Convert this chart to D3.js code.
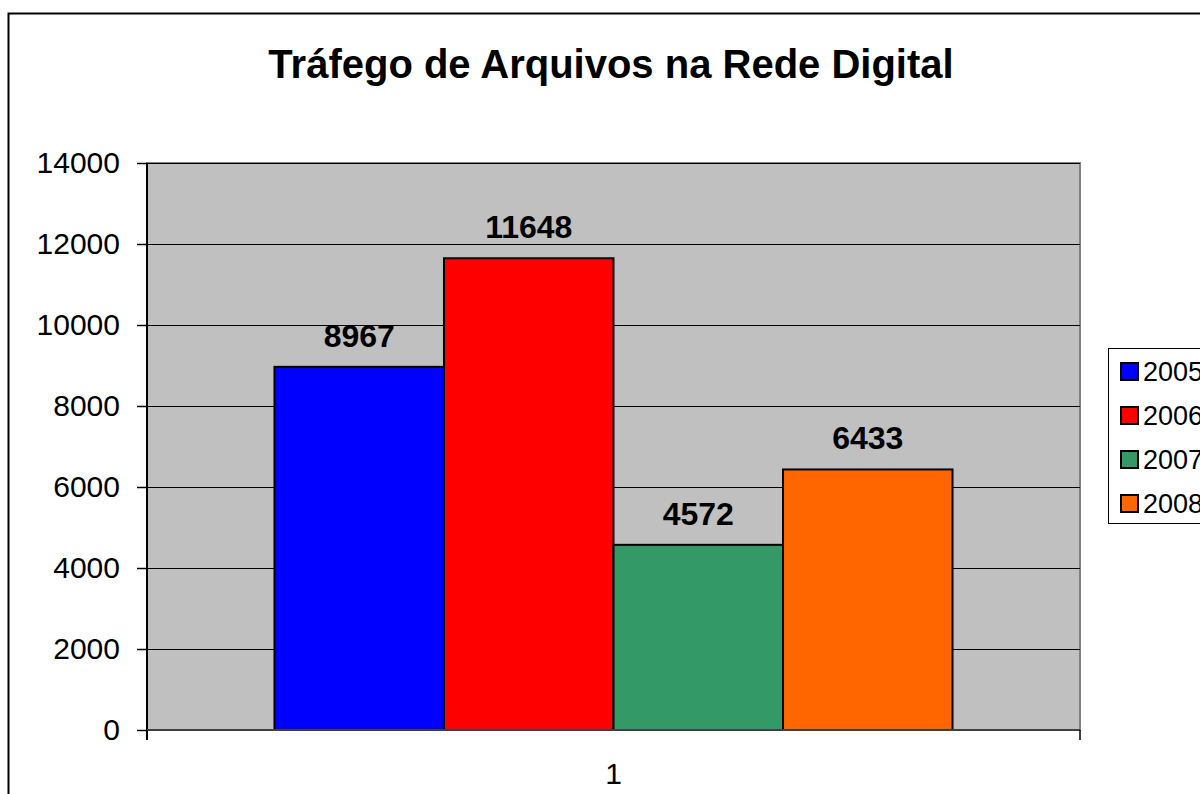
<!DOCTYPE html>
<html>
<head>
<meta charset="utf-8">
<script src="https://cdn.jsdelivr.net/npm/d3@7"></script>
<style>
  body { margin: 0; background: #fff; }
  text { font-family: "Liberation Sans", Arial, sans-serif; }
</style>
</head>
<body>
<div id="chart"></div>
<script>
const width = 1200;
const height = 794;

// data
const categories = ["1"];
const years = ["2005", "2006", "2007", "2008"];
const values = [8967, 11648, 4572, 6433];
const colors = ["#0000ff", "#ff0000", "#339966", "#ff6600"];
const yTicks = [0, 2000, 4000, 6000, 8000, 10000, 12000, 14000];

const plot = { left: 147, right: 1080, top: 163, bottom: 730 };

const svg = d3.select("#chart").append("svg")
  .attr("width", width)
  .attr("height", height);

// moldura externa
svg.append("rect")
  .attr("x", 8.5).attr("y", 13.5)
  .attr("width", 1300).attr("height", 900)
  .attr("fill", "#fff").attr("stroke", "#000").attr("stroke-width", 2);

svg.append("text")
  .attr("x", 611).attr("y", 78)
  .attr("text-anchor", "middle")
  .style("font-size", "40px").style("font-weight", "bold")
  .text("Tráfego de Arquivos na Rede Digital");

const y = d3.scaleLinear().domain([0, 14000]).range([plot.bottom, plot.top]);
const x0 = d3.scaleBand().domain(categories).range([plot.left, plot.right])
  .paddingOuter(0.188).paddingInner(0);
const x1 = d3.scaleBand().domain(years).range([0, x0.bandwidth()]);

// fundo cinza
svg.append("rect")
  .attr("x", plot.left).attr("y", plot.top)
  .attr("width", plot.right - plot.left).attr("height", plot.bottom - plot.top)
  .attr("fill", "#c0c0c0").attr("stroke", "#808080").attr("stroke-width", 2);

// linhas de grade
svg.append("g").selectAll("line")
  .data(yTicks.filter(d => d > 0))
  .join("line")
  .attr("x1", plot.left).attr("x2", plot.right)
  .attr("y1", d => Math.round(y(d)) + 0.5).attr("y2", d => Math.round(y(d)) + 0.5)
  .attr("stroke", "#000").attr("stroke-width", 1);

// barras
const g = svg.append("g").attr("transform", `translate(${x0("1")},0)`);
g.selectAll("rect")
  .data(values)
  .join("rect")
  .attr("x", (d, i) => x1(years[i]))
  .attr("y", d => y(d))
  .attr("width", x1.bandwidth())
  .attr("height", d => y(0) - y(d))
  .attr("fill", (d, i) => colors[i])
  .attr("stroke", "#000").attr("stroke-width", 2);

g.selectAll("text.val")
  .data(values)
  .join("text")
  .attr("class", "val")
  .attr("x", (d, i) => x1(years[i]) + x1.bandwidth() / 2)
  .attr("y", d => y(d) - 20)
  .attr("text-anchor", "middle")
  .style("font-size", "32px").style("font-weight", "bold")
  .text(d => d);

// eixo Y
const yAxis = d3.axisLeft(y).tickValues(yTicks).tickSize(10).tickPadding(17).tickFormat(d3.format("d"));
const ya = svg.append("g").attr("transform", `translate(${plot.left},0)`).call(yAxis);
ya.select(".domain").attr("stroke", "#000").attr("stroke-width", 2)
  .attr("d", `M0,${plot.top}V${plot.bottom + 10}`);
ya.selectAll(".tick line").attr("stroke", "#000").attr("stroke-width", 1.5);
ya.selectAll(".tick text").style("font-size", "30px").attr("fill", "#000")
  .style("font-family", "'Liberation Sans', Arial, sans-serif");

// eixo X
const xAxis = d3.axisBottom(x0).tickSize(0).tickPadding(33);
const xa = svg.append("g").attr("transform", `translate(0,${plot.bottom})`).call(xAxis);
xa.select(".domain").attr("stroke", "#404040").attr("stroke-width", 2)
  .attr("d", `M${plot.left},0H${plot.right}`);
xa.selectAll(".tick text").style("font-size", "30px").attr("fill", "#000")
  .style("font-family", "'Liberation Sans', Arial, sans-serif");
xa.selectAll("line.edge")
  .data([plot.left, plot.right])
  .join("line")
  .attr("class", "edge")
  .attr("x1", d => d).attr("x2", d => d)
  .attr("y1", 0).attr("y2", 10)
  .attr("stroke", "#000").attr("stroke-width", 1.5);

// legenda
const legend = svg.append("g").attr("transform", "translate(1108,348)");
legend.append("rect")
  .attr("x", 0.5).attr("y", 0.5).attr("width", 140).attr("height", 175)
  .attr("fill", "#fff").attr("stroke", "#000").attr("stroke-width", 1);
const items = legend.selectAll("g.item")
  .data(years)
  .join("g")
  .attr("class", "item")
  .attr("transform", (d, i) => `translate(13,${15 + i * 44})`);
items.append("rect")
  .attr("width", 17).attr("height", 17)
  .attr("fill", (d, i) => colors[i])
  .attr("stroke", "#000").attr("stroke-width", 2);
items.append("text")
  .attr("x", 22).attr("y", 18)
  .style("font-size", "27px")
  .text(d => d);
</script>
</body>
</html>
